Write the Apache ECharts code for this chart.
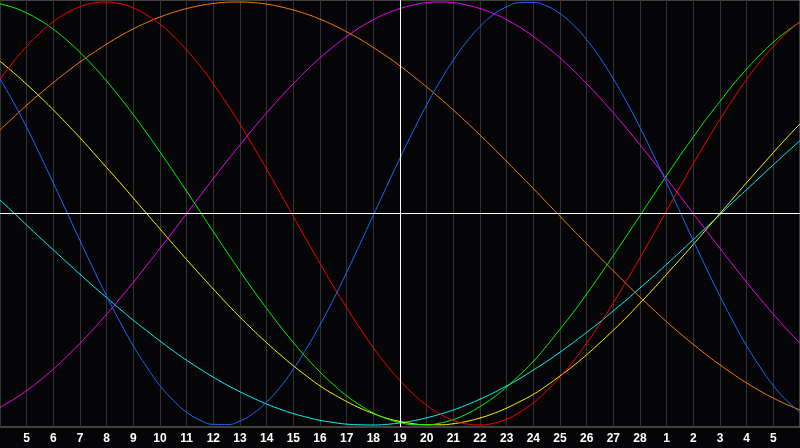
<!DOCTYPE html>
<html>
<head>
<meta charset="utf-8">
<style>
  html, body { margin: 0; padding: 0; background: #050507; }
  #chart { width: 800px; height: 448px; }
</style>
<script src="https://cdn.jsdelivr.net/npm/echarts@6/dist/echarts.min.js"></script>
</head>
<body>
<div id="chart"></div>
<script>
// day labels, one per grid line (position 0 .. 30)
const days = ['4', '5', '6', '7', '8', '9', '10', '11', '12', '13', '14', '15', '16', '17', '18',
  '19', '20', '21', '22', '23', '24', '25', '26', '27', '28', '1', '2', '3', '4', '5', '6']

// cycle values read every half day (-1 .. 1), 61 points each
const physical = [0.637, 0.527, 0.407, 0.278, 0.144, 0.008, -0.128, -0.262, -0.391, -0.513,
  -0.626, -0.725, -0.814, -0.884, -0.940, -0.977, -0.997, -0.998, -0.981, -0.945,
  -0.891, -0.822, -0.736, -0.637, -0.527, -0.407, -0.278, -0.144, -0.008, 0.128,
  0.262, 0.391, 0.513, 0.625, 0.725, 0.812, 0.884, 0.940, 0.977, 0.997,
  0.998, 0.981, 0.945, 0.892, 0.822, 0.736, 0.637, 0.527, 0.407, 0.278,
  0.144, 0.008, -0.128, -0.262, -0.391, -0.513, -0.626, -0.725, -0.814, -0.884, -0.940]
const emotional = [0.634, 0.717, 0.790, 0.854, 0.907, 0.948, 0.978, 0.995, 1.000, 0.992,
  0.972, 0.939, 0.895, 0.839, 0.773, 0.698, 0.613, 0.521, 0.422, 0.317,
  0.209, 0.099, -0.014, -0.126, -0.236, -0.343, -0.445, -0.543, -0.634, -0.717,
  -0.790, -0.854, -0.907, -0.948, -0.978, -0.995, -1.000, -0.992, -0.972, -0.939,
  -0.895, -0.839, -0.773, -0.698, -0.613, -0.521, -0.422, -0.317, -0.209, -0.099,
  0.014, 0.126, 0.236, 0.343, 0.445, 0.543, 0.634, 0.717, 0.790, 0.854, 0.907]
const intellectual = [0.991, 0.974, 0.948, 0.914, 0.871, 0.820, 0.762, 0.697, 0.626, 0.549,
  0.467, 0.381, 0.291, 0.199, 0.105, 0.010, -0.086, -0.180, -0.273, -0.363,
  -0.449, -0.532, -0.610, -0.683, -0.749, -0.809, -0.862, -0.906, -0.943, -0.970,
  -0.989, -0.998, -0.999, -0.991, -0.974, -0.948, -0.913, -0.871, -0.820, -0.762,
  -0.699, -0.626, -0.547, -0.467, -0.381, -0.291, -0.199, -0.105, -0.010, 0.086,
  0.180, 0.273, 0.362, 0.449, 0.530, 0.611, 0.683, 0.750, 0.810, 0.861, 0.905]
const awareness = [0.395, 0.454, 0.512, 0.567, 0.619, 0.669, 0.716, 0.760, 0.801, 0.839,
  0.873, 0.903, 0.929, 0.951, 0.969, 0.983, 0.993, 0.999, 1.000, 0.997,
  0.990, 0.978, 0.962, 0.943, 0.919, 0.891, 0.859, 0.824, 0.785, 0.743,
  0.698, 0.649, 0.598, 0.545, 0.489, 0.431, 0.371, 0.309, 0.246, 0.182,
  0.118, 0.052, -0.013, -0.079, -0.143, -0.208, -0.271, -0.334, -0.395, -0.454,
  -0.512, -0.567, -0.619, -0.669, -0.716, -0.760, -0.801, -0.839, -0.873, -0.903, -0.929]
const intuitive = [-0.916, -0.880, -0.837, -0.789, -0.736, -0.677, -0.614, -0.547, -0.476, -0.402,
  -0.325, -0.246, -0.165, -0.083, 0.000, 0.083, 0.165, 0.246, 0.325, 0.402,
  0.476, 0.547, 0.614, 0.677, 0.736, 0.789, 0.837, 0.880, 0.916, 0.946,
  0.969, 0.986, 0.997, 1.000, 0.997, 0.986, 0.969, 0.946, 0.916, 0.880,
  0.837, 0.789, 0.736, 0.677, 0.614, 0.547, 0.476, 0.402, 0.325, 0.246,
  0.165, 0.083, 0.000, -0.083, -0.165, -0.246, -0.325, -0.402, -0.476, -0.547, -0.614]
const aesthetic = [0.720, 0.667, 0.611, 0.552, 0.490, 0.425, 0.358, 0.288, 0.217, 0.146,
  0.073, 0.000, -0.073, -0.146, -0.218, -0.288, -0.357, -0.425, -0.490, -0.552,
  -0.611, -0.667, -0.720, -0.769, -0.815, -0.854, -0.889, -0.920, -0.946, -0.968,
  -0.983, -0.994, -0.999, -0.999, -0.994, -0.983, -0.967, -0.946, -0.920, -0.889,
  -0.855, -0.814, -0.768, -0.720, -0.668, -0.611, -0.552, -0.490, -0.424, -0.357,
  -0.287, -0.217, -0.146, -0.073, 0.000, 0.073, 0.146, 0.217, 0.288, 0.357, 0.424]
const spiritual = [0.064, 0.005, -0.055, -0.114, -0.172, -0.230, -0.287, -0.344, -0.398, -0.452,
  -0.505, -0.554, -0.603, -0.650, -0.694, -0.735, -0.774, -0.810, -0.843, -0.873,
  -0.901, -0.925, -0.946, -0.963, -0.978, -0.988, -0.996, -0.999, -1.000, -0.997,
  -0.990, -0.980, -0.966, -0.949, -0.929, -0.905, -0.878, -0.848, -0.815, -0.780,
  -0.740, -0.700, -0.656, -0.610, -0.562, -0.513, -0.460, -0.408, -0.352, -0.297,
  -0.240, -0.182, -0.123, -0.064, -0.005, 0.055, 0.113, 0.172, 0.230, 0.288, 0.344]

const todayPos = 15

const chartInstance = echarts.init(document.getElementById('chart'))

function cycle(name, values, color) {
  return {
    name: name,
    type: 'line',
    // half-day steps on the x axis
    data: values.map((v, i) => [i / 2, v]),
    smooth: true,
    symbol: 'none',
    silent: true,
    lineStyle: { color: color, width: 1 }
  }
}

const series = [
  cycle('spiritual', spiritual, '#00ffff'),
  cycle('aesthetic', aesthetic, '#ffff00'),
  cycle('awareness', awareness, '#ff8000'),
  cycle('intuitive', intuitive, '#ff00ff'),
  cycle('intellectual', intellectual, '#00ff00'),
  cycle('emotional', emotional, '#ff0000'),
  cycle('physical', physical, '#1a6cff')
]

// white cross: zero line and today
series[0].markLine = {
  silent: true,
  symbol: 'none',
  label: { show: false },
  lineStyle: { color: '#ffffff', width: 1, type: 'solid' },
  data: [{ yAxis: 0 }, { xAxis: todayPos }]
}

const option = {
  backgroundColor: '#050507',
  animation: false,
  grid: {
    left: 0,
    right: 0,
    top: 0,
    bottom: 21,
    containLabel: false,
    outerBoundsMode: 'none',
    show: true,
    borderColor: '#808080',
    borderWidth: 1
  },
  xAxis: {
    type: 'value',
    min: 0,
    max: 30,
    interval: 1,
    axisLine: { lineStyle: { color: '#a0a0a0', width: 1 } },
    axisTick: { show: false },
    axisLabel: {
      color: '#ffffff',
      fontFamily: 'Liberation Sans',
      fontWeight: 'bold',
      fontSize: 12,
      margin: 6,
      formatter: (v) => (v === 0 || v === 30 ? '' : days[v])
    },
    splitLine: { show: true, lineStyle: { color: '#333333', width: 1 } }
  },
  yAxis: {
    type: 'value',
    min: -1.0095,
    max: 1.0095,
    show: false,
    splitLine: { show: false }
  },
  series: series
}

chartInstance.setOption(option)
</script>
</body>
</html>
